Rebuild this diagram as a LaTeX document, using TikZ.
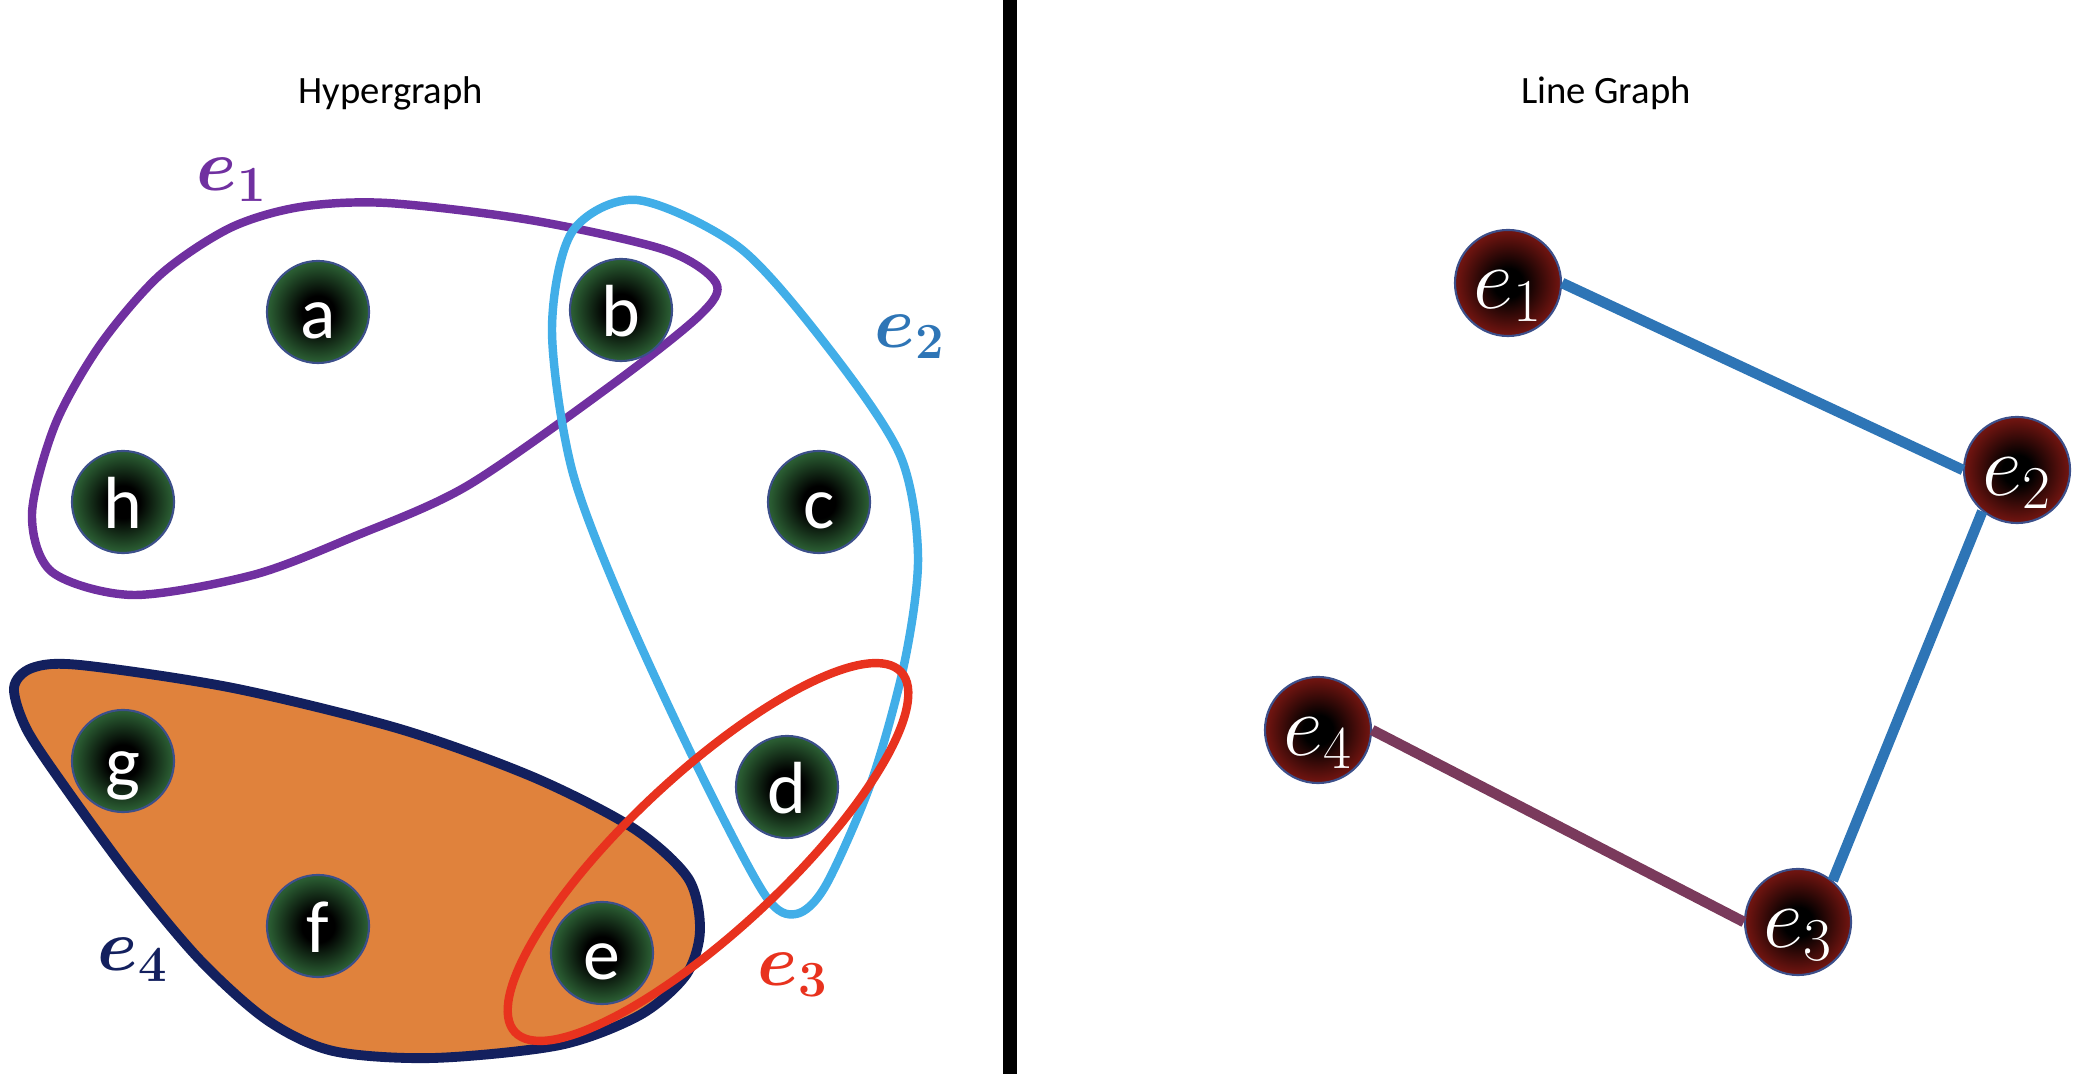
\documentclass[tikz,border=0pt]{standalone}
\usepackage{fontspec}
\setsansfont{Carlito}
\usepackage{bm}

\definecolor{hpurple}{HTML}{7030A0}
\definecolor{hsky}{HTML}{41AEE8}
\definecolor{hblue}{HTML}{2E75B6}
\definecolor{hred}{HTML}{E8321E}
\definecolor{hnavy}{HTML}{13205E}
\definecolor{horange}{HTML}{E0823C}
\definecolor{lgmauve}{HTML}{7A3A5C}
\definecolor{vgreen}{HTML}{2A5C32}
\definecolor{vred}{HTML}{6E1410}
\definecolor{vborder}{HTML}{3C4F8A}

\pgfdeclareradialshading{greenball}{\pgfpointorigin}{color(0bp)=(black); color(8bp)=(black); color(24bp)=(vgreen); color(50bp)=(vgreen)}
\pgfdeclareradialshading{redball}{\pgfpointorigin}{color(0bp)=(black); color(7bp)=(black); color(24bp)=(vred); color(50bp)=(vred)}

\begin{document}
\begin{tikzpicture}[x=0.01cm,y=-0.01cm]
\tikzstyle{vertex}=[circle, draw=vborder, line width=0.6pt, shade, shading=greenball, minimum size=1.02cm, inner sep=0pt, text=white, font=\sffamily\fontsize{21}{24}\selectfont, text height=0.52cm, text depth=0cm]
\tikzstyle{lgvertex}=[vertex, shading=redball, minimum size=1.06cm, font=\fontsize{23}{25}\selectfont, text height=0.5cm]
\tikzstyle{hedge}=[line width=2.4pt, line join=round]
\tikzstyle{hlabel}=[font=\fontsize{21}{24}\selectfont]
\tikzstyle{lgedge}=[line width=3pt, draw=hblue]
\tikzstyle{title}=[font=\sffamily\fontsize{11}{13}\selectfont]

\useasboundingbox (0,0) rectangle (2082,1074);

% Titles and divider
\node[title] (hyptitle) at (391,93) {Hypergraph};
\node[title] (lgtitle) at (1606,93) {Line Graph};
\draw[line width=4pt] (1010,0) -- (1010,1074);

% Hyperedges
\draw[hedge, draw=hnavy, fill=horange, line width=2.8pt] plot[smooth cycle] coordinates {(14,688) (32,668) (80,665) (233,688) (400,729) (533,777) (633,828) (688,878) (700,930) (686,975) (640,1015) (560,1045) (433,1058) (333,1051) (267,1020) (200,960) (133,880) (67,790) (27,730)};
\draw[hedge, draw=hpurple] plot[smooth cycle] coordinates {(387,203) (530,220) (665,250) (716,283) (700,315) (613,384) (467,486) (353,537) (253,575) (133,595) (52,572) (32,514) (55,425) (100,345) (160,275) (230,228) (300,207)};
\draw[hedge, draw=hsky] plot[smooth cycle] coordinates {(637,200) (740,248) (830,350) (900,455) (918,555) (905,660) (872,780) (826,885) (796,914) (765,895) (700,772) (625,610) (572,470) (552,330) (572,232)};
\draw[hedge, draw=hred] (708,852) ellipse[x radius=264, y radius=78, rotate=43];

% Hyperedge labels
\node[hlabel, text=hpurple] (lab1) at (232,180) {$\bm{e_1}$};
\node[hlabel, text=hblue] (lab2) at (910,337) {$\bm{e_2}$};
\node[hlabel, text=hred] (lab3) at (793,975) {$\bm{e_3}$};
\node[hlabel, text=hnavy] (lab4) at (133,960) {$\bm{e_4}$};

% Vertices
\node[vertex] (a) at (318,312) {a};
\node[vertex] (b) at (621,310) {b};
\node[vertex] (h) at (123,502) {h};
\node[vertex] (c) at (819,502) {c};
\node[vertex] (g) at (123,761) {g};
\node[vertex] (d) at (787,787) {d};
\node[vertex] (f) at (318,926) {f};
\node[vertex] (e) at (602,953) {e};

% Line graph
\node[lgvertex] (le1) at (1508,283) {$e_1$};
\node[lgvertex] (le2) at (2017,470) {$e_2$};
\node[lgvertex] (le3) at (1798,922) {$e_3$};
\node[lgvertex] (le4) at (1318,730) {$e_4$};

\draw[lgedge] (le1.east) -- (le2.west);
\draw[lgedge] (le2.230) -- (le3.50);
\draw[lgedge, draw=lgmauve] (le4.east) -- (le3.west);
\end{tikzpicture}
\end{document}
